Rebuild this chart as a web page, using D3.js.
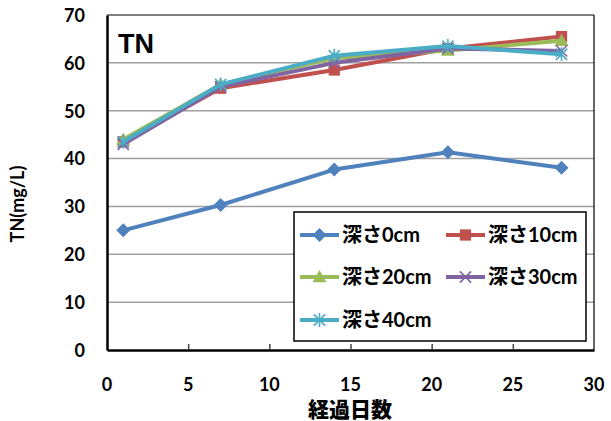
<!DOCTYPE html>
<html>
<head>
<meta charset="utf-8">
<script src="https://cdn.jsdelivr.net/npm/d3@7"></script>
<style>
  html, body { margin: 0; padding: 0; background: #fff; }
  svg { display: block; }
  text { font-family: "Lato", "Noto Sans CJK JP", sans-serif; font-weight: bold; fill: #000; }
</style>
</head>
<body>
<svg id="chart" width="611" height="421"></svg>
<script>
// Elapsed days of sampling
const days = [1, 7, 14, 21, 28];

// TN concentration (mg/L) per sampling depth
const depth0  = [25.0, 30.3, 37.7, 41.3, 38.1];
const depth10 = [43.5, 54.7, 58.5, 63.0, 65.5];
const depth20 = [44.0, 55.5, 61.0, 62.6, 64.6];
const depth30 = [43.0, 55.0, 60.0, 63.0, 62.5];
const depth40 = [43.5, 55.5, 61.5, 63.5, 61.8];

const seriesNames = ["深さ0cm", "深さ10cm", "深さ20cm", "深さ30cm", "深さ40cm"];
const seriesColors = ["#4F81BD", "#C0504D", "#9BBB59", "#8064A2", "#4BACC6"];
const seriesMarkers = ["diamond", "square", "triangle", "cross", "star"];

const xTicks = [0, 5, 10, 15, 20, 25, 30];
const yTicks = [0, 10, 20, 30, 40, 50, 60, 70];

const series = [depth0, depth10, depth20, depth30, depth40].map((vals, i) => ({
  name: seriesNames[i], color: seriesColors[i], marker: seriesMarkers[i],
  points: vals.map((v, j) => ({ x: days[j], y: v }))
}));

const svg = d3.select("#chart");
const plot = { left: 107, right: 594, top: 15, bottom: 350 };

const x = d3.scaleLinear().domain([0, 30]).range([plot.left, plot.right]);
const y = d3.scaleLinear().domain([0, 70]).range([plot.bottom, plot.top]);

// Horizontal gridlines
svg.append("g").selectAll("line")
  .data(yTicks.filter(t => t > 0 && t < 70))
  .join("line")
  .attr("x1", plot.left).attr("x2", plot.right)
  .attr("y1", d => y(d)).attr("y2", d => y(d))
  .attr("stroke", "#A0A0A0").attr("stroke-width", 1.5);

// Plot frame: thin top/right, heavy axis lines left/bottom
svg.append("line").attr("x1", plot.left).attr("x2", plot.right)
  .attr("y1", plot.top).attr("y2", plot.top).attr("stroke", "#000").attr("stroke-width", 1.2);
svg.append("line").attr("x1", plot.right).attr("x2", plot.right)
  .attr("y1", plot.top).attr("y2", plot.bottom).attr("stroke", "#000").attr("stroke-width", 1.2);

// X axis with inward ticks
const xAxis = svg.append("g")
  .attr("transform", `translate(0,${plot.bottom})`)
  .call(d3.axisBottom(x).tickValues(xTicks).tickSizeInner(-6).tickSizeOuter(0).tickPadding(0).tickFormat(""));
xAxis.select(".domain").attr("stroke", "#000").attr("stroke-width", 2.5);
xAxis.selectAll(".tick line").attr("stroke", "#444").attr("stroke-width", 1.5)
  .filter(d => d === 0 || d === 30).remove();

svg.append("g").selectAll("text")
  .data(xTicks).join("text")
  .attr("x", d => x(d)).attr("y", 391)
  .attr("text-anchor", "middle")
  .style("font-size", "18px")
  .text(d => d);

// Y axis
const yAxis = svg.append("g")
  .attr("transform", `translate(${plot.left},0)`)
  .call(d3.axisLeft(y).tickValues(yTicks).tickSize(0).tickSizeOuter(0).tickPadding(22));
yAxis.select(".domain").attr("stroke", "#000").attr("stroke-width", 2.5);
yAxis.selectAll(".tick text").style("font-size", "18px").attr("dy", "0.35em");

// Axis titles
svg.append("text")
  .attr("transform", "translate(24,204) rotate(-90)")
  .attr("text-anchor", "middle")
  .style("font-size", "18px")
  .text("TN(mg/L)");

svg.append("text")
  .attr("x", 350).attr("y", 417)
  .attr("text-anchor", "middle")
  .style("font-size", "21px")
  .style("font-weight", "900")
  .text("経過日数");

// Panel label
svg.append("text")
  .attr("x", 118).attr("y", 53)
  .style("font-family", "'Liberation Sans', Arial, sans-serif")
  .style("font-size", "27px")
  .text("TN");

// Marker shapes
function drawMarker(g, type, color, size) {
  const s = size;
  if (type === "diamond") {
    g.append("path").attr("d", `M0,${-s}L${s},0L0,${s}L${-s},0Z`).attr("fill", color);
  } else if (type === "square") {
    g.append("rect").attr("x", -s * 0.8).attr("y", -s * 0.8)
      .attr("width", s * 1.6).attr("height", s * 1.6).attr("fill", color);
  } else if (type === "triangle") {
    g.append("path").attr("d", `M0,${-s}L${s},${s * 0.75}L${-s},${s * 0.75}Z`).attr("fill", color);
  } else if (type === "cross") {
    const r = s * 0.8;
    g.append("path").attr("d", `M${-r},${-r}L${r},${r}M${-r},${r}L${r},${-r}`)
      .attr("stroke", color).attr("stroke-width", 1.6).attr("fill", "none");
  } else if (type === "star") {
    const r = s * 0.8;
    g.append("path").attr("d", `M${-r},${-r}L${r},${r}M${-r},${r}L${r},${-r}M0,${-s}L0,${s}`)
      .attr("stroke", color).attr("stroke-width", 1.6).attr("fill", "none");
  }
}

const line = d3.line().x(d => x(d.x)).y(d => y(d.y));

// Series lines and markers
series.forEach(s => {
  const g = svg.append("g");
  g.append("path").datum(s.points)
    .attr("d", line).attr("fill", "none")
    .attr("stroke", s.color).attr("stroke-width", 4)
    .attr("stroke-linejoin", "round");
  s.points.forEach(p => {
    const m = g.append("g").attr("transform", `translate(${x(p.x)},${y(p.y)})`);
    drawMarker(m, s.marker, s.color, 7);
  });
});

// Legend
const legend = svg.append("g");
legend.append("rect")
  .attr("x", 294).attr("y", 212).attr("width", 292).attr("height", 129)
  .attr("fill", "#fff").attr("stroke", "#000").attr("stroke-width", 1.5);

const legendPos = [
  { lx: 300, ty: 235 }, { lx: 446, ty: 235 },
  { lx: 300, ty: 277 }, { lx: 446, ty: 277 },
  { lx: 300, ty: 320 }
];
series.forEach((s, i) => {
  const p = legendPos[i];
  const g = legend.append("g");
  g.append("line").attr("x1", p.lx).attr("x2", p.lx + 39)
    .attr("y1", p.ty).attr("y2", p.ty)
    .attr("stroke", s.color).attr("stroke-width", 4);
  const m = g.append("g").attr("transform", `translate(${p.lx + 19.5},${p.ty})`);
  drawMarker(m, s.marker, s.color, 7);
  g.append("text").attr("x", p.lx + 42).attr("y", p.ty)
    .attr("dy", "0.36em")
    .style("font-size", "20px")
    .text(s.name);
});
</script>
</body>
</html>
